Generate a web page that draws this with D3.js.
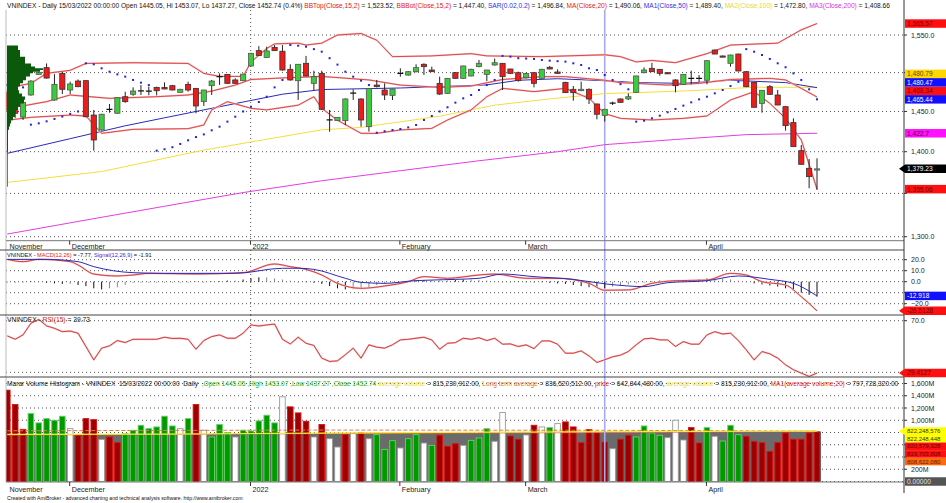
<!DOCTYPE html>
<html>
<head>
<meta charset="utf-8">
<script src="https://cdn.jsdelivr.net/npm/d3@7"></script>
<style>
body { margin: 0; background: #fff; }
svg { display: block; font-family: "Liberation Sans", Arial, sans-serif; }
text { white-space: pre; }
</style>
</head>
<body>
<script>
// ---- price data (VNINDEX daily, 104 bars) ----
var openP = [1474,1452.7,1443,1471,1497.7,1506.5,1464.6,1499,1477.4,1489,
1489.5,1445.5,1426.8,1452.5,1447.7,1468.8,1471.9,1476,1476.2,1480.8,
1480.8,1483,1474.4,1484.7,1479.5,1462.5,1483,1494.7,1497.7,1490.4,
1489.5,1508.7,1529,1520,1533.4,1528.2,1504.3,1489.5,1512.2,1486,
1499,1439.3,1438.5,1438.5,1473.1,1465.9,1430.9,1483.8,1477.4,1470.5,
1499.2,1496.8,1501.2,1510.9,1503.4,1486,1473.1,1499.9,1492.5,1495.6,
1507.8,1497.7,1510,1512.2,1504.7,1499.9,1493.4,1499.9,1492.5,1507,
1500.8,1487.3,1478.3,1476.5,1478.3,1459.5,1445.05,1460.3,1465.9,1465.9,
1474.4,1499.9,1505.6,1504.3,1499.9,1490.4,1484.7,1492.5,1492.5,1490,
1529.8,1521.9,1512.2,1524.5,1501.2,1487.3,1460.3,1481.7,1471,1456.1,
1436,1401.3,1379.9,1377.9];
var highP = [1477.4,1462,1463.5,1490,1501,1512,1497.9,1501,1488.2,1491,
1490,1451.9,1447,1459.5,1468,1475.3,1480.8,1483.8,1481.7,1481.7,
1487.3,1484,1479,1488.2,1480,1477.5,1490.4,1499,1498,1492.5,
1498.5,1526,1535,1534.3,1536.5,1536.5,1510.9,1511,1522,1502.5,
1502.5,1451.9,1443,1466.7,1478.3,1466.7,1480,1490.4,1486,1479,
1505.6,1502,1510.9,1512.2,1507.8,1494.7,1493,1500.5,1509,1505,
1516.6,1503.5,1518.6,1512.5,1505,1501.2,1499.9,1500,1505,1508.7,
1504.3,1488,1482.5,1488.2,1479.5,1460,1453.07,1462.5,1466.5,1473.1,
1496,1506.9,1512.9,1504.5,1500.2,1491.3,1498,1502.5,1496.8,1516,
1530.6,1522.5,1523.5,1525,1502,1488,1477.4,1483.8,1477.4,1456.5,
1441.4,1408.2,1391.1,1392];
var lowP = [1449.8,1442,1439.3,1470,1497,1492,1463.7,1472.3,1472.3,1481,
1442.6,1401.3,1426,1448.5,1447,1461,1470,1471,1470.6,1470.5,
1478.5,1477,1474,1475.2,1447.7,1457,1471,1484,1485.5,1485.5,
1489,1508,1522,1519.5,1528.5,1502.5,1489.5,1464.6,1495,1477.4,
1451.9,1424.7,1438,1433,1464.6,1430.9,1424.7,1480.8,1464.6,1464.6,
1494.7,1496,1500.3,1496.8,1501,1471,1472.5,1492,1492,1495,
1507,1489,1509,1477.4,1498.5,1488.2,1492.5,1480.8,1492,1504.5,
1498.8,1473.5,1463.7,1476,1459.5,1440.1,1437.27,1458.2,1461,1464.6,
1474,1499,1501,1496,1498.4,1474.4,1484,1484.7,1487.7,1484.7,
1524.3,1520.5,1507.8,1501.8,1481,1455,1448.5,1471.5,1458,1426,
1406,1384.5,1356.1,1354.1];
var closeP = [1451.9,1447.7,1461.6,1489,1500.3,1492.9,1484.7,1478.3,1485.2,1481.7,
1443.4,1414.4,1446.5,1452.7,1467.6,1462.5,1476.1,1476.2,1476,1476.5,
1478.7,1477.4,1478.3,1477.4,1457,1477.4,1489,1494.8,1486,1486,
1498,1525.4,1522.5,1528.6,1529,1503.4,1490.4,1510.9,1495.6,1494.7,
1452.7,1439.5,1442.6,1465.9,1473.3,1439.3,1479.5,1481.7,1471,1478.7,
1499,1501.2,1506.5,1507.8,1501.2,1472.2,1492.5,1492.5,1508.7,1504.3,
1512.2,1503.4,1513,1494.7,1499,1489.5,1499,1486,1504.3,1504.7,
1499,1474,1474,1478.3,1465.9,1446.5,1452.74,1460.5,1461.6,1468.8,
1495.6,1503.4,1501.2,1499,1498.6,1483,1497.7,1492.4,1492.5,1515.7,
1524.5,1521,1523.2,1502.1,1481.7,1455.3,1477,1471.8,1458.2,1432.2,
1406.2,1384.7,1369.9,1379.23];

// indicator lines, [bar, value]
var bbTop = [[0,1480],[3,1486],[5,1499],[8,1503],[10,1512],[16,1513],[23,1512],[25,1499],[27,1495],[30,1495],[31,1514],[33,1532],[34,1538],[37,1539],[38,1536.5],[40,1539],[42,1550],[45,1552],[47,1543],[49,1521],[54,1522],[59,1525],[61,1522],[68,1521],[76,1523.5],[78,1521],[80,1514],[82,1516],[85,1513],[89,1525],[92,1536.5],[98,1539],[101,1557],[103,1565.57]];
var bbBot = [[0,1439],[3,1442.6],[8,1445.5],[10,1444.3],[12,1422.6],[16,1427.6],[23,1428.4],[25,1433],[26,1452],[28,1462.5],[31,1454],[33,1452],[37,1458],[39,1468.8],[40,1454],[42,1439],[45,1422.6],[47,1422.6],[50,1426.8],[54,1428.8],[56,1439.3],[59,1452],[61,1468.8],[63,1479.5],[67,1475.3],[69,1477.4],[71,1479.5],[74,1466.7],[76,1447.4],[78,1441.3],[82,1439.3],[86,1441.3],[89,1444.3],[92,1464.6],[95,1475.3],[97,1460.3],[99,1441.3],[101,1414.4],[103,1355.06]];
var ma20 = [[0,1455],[2,1457],[5,1462.5],[8,1471],[13,1466.7],[19,1468.8],[23,1471],[26,1476],[29,1483.8],[31,1491],[35,1493],[40,1495],[46,1490.4],[50,1483.8],[55,1480.8],[59,1482.5],[63,1491],[68,1494.7],[71,1494.7],[76,1490.06],[78,1486.9],[80,1486],[84,1483.8],[88,1486],[92,1491],[97,1492.5],[99,1490.4],[101,1479.5],[103,1468.34]];
var ma50 = [[0,1398],[8,1416],[15,1432],[20,1442],[25,1452],[30,1462],[35,1472],[40,1478],[50,1480],[61,1484],[65,1490],[70,1492],[76,1489.4],[80,1487],[86,1486],[92,1490],[99,1487],[103,1480.47]];
var ma100 = [[0,1363],[12,1376],[25,1402],[40,1427],[45,1430],[55,1444],[62,1458],[69,1466],[76,1472.8],[80,1474],[88,1477],[95,1481],[103,1480.79]];
var ma200 = [[0,1303],[10,1319],[20,1335],[30,1351],[40,1365],[50,1377],[60,1389],[70,1400],[76,1408.66],[85,1415],[94,1421],[103,1422.7]];
var sar = [1483.8,1482.5,1480.8,1433.4,1435.1,1437.6,1440.6,1443.6,1447,1450,
1512.2,1510.9,1505.6,1501.2,1497.7,1494.7,1490.4,1486.9,1483.8,1401.3,
1403,1405.5,1409.5,1414,1418,1421.3,1426.4,1430.9,1437.2,1443.4,
1450,1456,1462,1468.8,1480.8,1490.4,1536.5,1535.6,1534.3,1531,
1527.6,1519,1510.5,1501.2,1494.7,1489.5,1483.8,1423.4,1425.2,1426.8,
1428,1430,1433,1439.3,1444.3,1450,1455.3,1461.2,1466.7,1471,
1477.4,1483.8,1490.4,1522,1521,1519,1518.5,1518,1516.6,1515.7,
1515,1514.4,1512.2,1510,1505.6,1503.4,1496.84,1490.4,1485,1478.3,
1437.2,1438.4,1441.4,1444.7,1449,1453.2,1457.4,1461.6,1465.4,1468.8,
1473.1,1477.4,1482.5,1488,1531,1527.6,1523.2,1518,1512.2,1507,
1499,1490.4,1478.3,1465.44];

// volume-at-price profile on the left edge
var profilePrice = [1536,1530,1521,1512,1508,1505.6,1503.4,1501,1499,1495,1490,1486,1482,1477,1473,1469,1465,1460,1456,1452,1448,1443,1439,1435,1431,1427,1418,1410,1400,1386,1370,1358];
var profileVol = [9,11,13,18,24,28,36,33,26,23,19,16,13,11,12,15,18,17,13,11,9,8,6,4,3,2,1,1,1,0.7,0.7,0.7];

// MACD
var macdLine = [[0,20.3],[2,18.2],[4,20.3],[8,18.2],[9,15.2],[11,7.0],[14,5.2],[16,6.1],[18,7.6],[24,7.0],[30,8.2],[34,16.1],[36,13.7],[38,11.2],[40,6.1],[42,-1.5],[45,-6.0],[48,-3.9],[51,0.0],[53,4.6],[56,3.1],[60,6.1],[62,7.0],[66,3.1],[70,3.1],[74,-1.5],[76,-7.77],[79,-7.5],[82,-1.5],[85,0.9],[89,1.5],[92,7.6],[94,6.1],[96,0.0],[99,-3.0],[101,-13.6],[103,-26.51]];
var signalLine = [[0,20.3],[5,20.3],[9,18.2],[11,13.7],[16,8.2],[20,7.6],[29,7.6],[35,12.2],[37,12.2],[39,11.2],[43,3.1],[45,-0.6],[48,-1.5],[52,1.0],[54,1.5],[60,3.1],[63,7.0],[67,4.6],[72,2.1],[76,-1.91],[79,-3.9],[81,-4.5],[84,-0.9],[89,0.9],[93,5.2],[97,2.1],[100,-1.5],[103,-12.92]];
var macdHist = [-1,-1,0,0.5,-0.5,-1,-1.5,-2,-2,-3,
-4,-6,-7,-6,-5,-3,-1,0,0,0,
0,0,0,0,-0.3,0,0.3,0.5,1,1,
2,3,4,4,3,2,1,0,-0.5,-1,
-2,-4,-6,-7,-7,-6,-5,-3,-2,-1,
0,0.5,1,1.5,1.5,1,1,1.5,2,2,
1.5,1,0.5,0,0,-0.3,-0.5,0,-0.5,-1,
-1.5,-2,-3,-4,-5,-5.5,-5.86,-4.5,-3.5,-2.5,
-1.5,0,0.5,1,1,1,1,1,2,3,
3,3,2,1,-0.5,-1.5,-2.5,-3.5,-4.5,-6,
-8,-10,-12,-13.6];

// RSI(15)
var rsi = [58.2,55.6,59,68,71,66,64.1,61.5,62,60.3,
50,39.6,48.7,50.5,54.6,53.1,55.6,55.6,55.6,55.6,
57.2,56.2,56.4,55.6,47.9,54.6,57.7,59,56.4,56.4,
60.3,66.7,65.9,66.7,67.4,55.6,52,57.2,52.5,50.8,
41,38.4,38.9,43.6,48.7,41,51.3,49.5,48.7,51.3,
55.1,55.6,56.4,57.2,55.1,47.9,52.5,53,56.4,55.6,
56.8,54.6,56.4,51.8,52,50,51.3,48.4,54.3,54.3,
51.8,44.8,44.8,46.6,42.7,37.6,39.73,42,43.3,46.1,
51.3,55.9,56.4,55.1,55.1,50,53.8,51.8,51.8,59,
61.5,59.7,60.3,54.6,47.4,39.6,46.1,44.3,41,35.8,
32,29.4,26.8,29.41];

// volume (millions) and histogram colour codes: r = down, g = up, w = neutral
var volumeM = [1492,1257,852,1110,957,1027,1000,1066,863,754,
1027,1010,688,727,634,781,836,918,863,891,
1066,907,863,1027,1257,836,727,930,798,727,
836,825,989,1082,957,1383,1219,1120,984,727,
930,699,563,765,781,798,699,765,525,667,
547,699,765,628,590,754,574,617,590,672,
710,863,656,1126,743,689,760,918,891,880,
945,973,891,634,847,809,643,536,689,754,
727,907,792,754,716,1000,678,880,628,880,
738,661,918,765,738,656,634,492,634,792,
689,689,792,809];
var volumeColor = ('rrrgggggwr' + 'rrwrrggggg' + 'ggwgrwgggw' + 'gggggwrrrw' + 'rwwrwrwggg' +
  'wggwgrrrwg' + 'ggwwrrwrwg' + 'wrrrrrrwrr' + 'ggggwwwrrg' + 'wgggrrrrrr' + 'rrrr').split('');
var avgVolume = [[0,770],[20,775],[40,790],[60,805],[76,815],[103,822]];
var longTermAvg = [[0,828],[40,840],[76,836],[103,823]];
var ma20Volume = [[0,760],[30,775],[50,790],[76,798],[103,820]];

// axis
var monthNames = ['November', 'December', '2022', 'February', 'March', 'April'];
var monthStart = [0, 8, 31, 50, 66, 89];
var selectedBar = 76;
var priceTicks = [1300, 1350, 1400, 1450, 1500, 1550];
var macdTicks = [-20, -10, 0, 10, 20];
var rsiTicks = [30, 70];
var volTicks = [200, 400, 600, 800, 1000, 1200, 1400, 1600];

function plot_it() {
    var W = 946, H = 503, axisX = 904, left = 6;
    var svg = d3.select('body').append('svg').attr('width', W).attr('height', H);

    var x = d3.scaleLinear().domain([0, 103]).range([7.3, 817]);
    var yP = d3.scaleLog().domain([1300, 1550]).range([236.7, 35]);
    var yM = d3.scaleLinear().domain([-20, 20]).range([303.7, 259.7]);
    var yR = d3.scaleLinear().domain([30, 70]).range([372.3, 320.7]);
    var yV = d3.scaleLinear().domain([0, 1600]).range([481.5, 383.5]);

    var defs = svg.append('defs');
    [['cp', 9, 231.7], ['cm', 250, 65], ['cr', 315, 62], ['cv', 377, 105]].forEach(c => {
        defs.append('clipPath').attr('id', c[0]).append('rect')
            .attr('x', left).attr('y', c[1]).attr('width', axisX - left).attr('height', c[2]);
    });

    var dotted = (g, ys) => g.selectAll(null).data(ys).enter().append('line')
        .attr('x1', left).attr('x2', axisX).attr('y1', d => d).attr('y2', d => d)
        .attr('stroke', '#555').attr('stroke-dasharray', '1,3');

    // gridlines
    dotted(svg.append('g'), priceTicks.map(yP));
    dotted(svg.append('g'), macdTicks.map(yM));
    dotted(svg.append('g'), rsiTicks.map(yR));
    dotted(svg.append('g'), [0].concat(volTicks).map(yV));
    var yearX = x(31) - 0.3;
    [[10, 240], [250, 315], [315, 377], [377, 482]].forEach(r => {
        svg.append('line').attr('x1', yearX).attr('x2', yearX).attr('y1', r[0]).attr('y2', r[1])
            .attr('stroke', '#555').attr('stroke-dasharray', '1,3');
    });

    // volume gray area (average volume)
    var gV = svg.append('g').attr('clip-path', 'url(#cv)');
    gV.append('path').datum(avgVolume)
        .attr('d', d3.area().y0(yV(0)).y1(d => yV(d[1])).curve(d3.curveStepAfter)
            .x(d => d[0] == 103 ? x(103) + 4 : (d[0] == 0 ? x(0) - 3 : x(d[0]))))
        .attr('fill', '#6b6b6b');

    // selected bar line
    svg.append('line').attr('x1', x(selectedBar)).attr('x2', x(selectedBar)).attr('y1', 10).attr('y2', 482)
        .attr('stroke', '#a9a9f2').attr('stroke-width', 1.6);

    // ---- price panel ----
    var gP = svg.append('g').attr('clip-path', 'url(#cp)');
    var lineP = d3.line().x(d => x(d[0])).y(d => yP(d[1]));
    gP.append('path').datum(ma200).attr('d', lineP).attr('fill', 'none').attr('stroke', '#e23de2').attr('stroke-width', 1);
    gP.append('path').datum(ma100).attr('d', lineP).attr('fill', 'none').attr('stroke', '#f2df3a').attr('stroke-width', 1);
    gP.append('path').datum(ma50).attr('d', lineP).attr('fill', 'none').attr('stroke', '#2a2ab8').attr('stroke-width', 1);
    [bbTop, bbBot, ma20].forEach(s => {
        gP.append('path').datum(s).attr('d', lineP).attr('fill', 'none').attr('stroke', '#f6c0c0').attr('stroke-width', 1.8);
        gP.append('path').datum(s).attr('d', lineP).attr('fill', 'none').attr('stroke', '#d42a2a').attr('stroke-width', 0.8);
    });

    // SAR dots
    gP.selectAll('rect.sar').data(sar).enter().append('rect')
        .attr('x', (d, i) => x(i) - 1).attr('y', d => yP(d) - 1)
        .attr('width', 2).attr('height', 2).attr('fill', '#2222dd');

    var bars = d3.range(openP.length).map(i => ({ i: i, o: openP[i], h: highP[i], l: lowP[i], c: closeP[i] }));
    gP.selectAll('line.wick').data(bars).enter().append('line')
        .attr('x1', d => x(d.i)).attr('x2', d => x(d.i))
        .attr('y1', d => yP(d.h)).attr('y2', d => yP(d.l))
        .attr('stroke', '#222').attr('stroke-width', 1);
    gP.selectAll('rect.body').data(bars.filter(d => Math.abs(d.c - d.o) >= 0.6)).enter().append('rect')
        .attr('x', d => x(d.i) - 2.6).attr('width', 5.2)
        .attr('y', d => yP(Math.max(d.o, d.c)))
        .attr('height', d => Math.max(1.2, yP(Math.min(d.o, d.c)) - yP(Math.max(d.o, d.c))))
        .attr('fill', d => d.c > d.o ? '#3ccb3c' : '#ee1b1b')
        .attr('stroke', d => d.c > d.o ? '#555' : '#333').attr('stroke-width', 0.8);
    gP.selectAll('line.doji').data(bars.filter(d => Math.abs(d.c - d.o) < 0.6)).enter().append('line')
        .attr('x1', d => x(d.i) - 3).attr('x2', d => x(d.i) + 3)
        .attr('y1', d => yP(d.c)).attr('y2', d => yP(d.c))
        .attr('stroke', '#111').attr('stroke-width', 1.3);

    // volume profile
    var xProf = d3.scaleLinear().domain([0, 36]).range([left + 1, left + 37]);
    gP.append('path').datum(profilePrice.map((p, k) => [p, profileVol[k]]))
        .attr('d', d3.area().y(d => yP(d[0])).x0(xProf(0)).x1(d => xProf(d[1])).curve(d3.curveStepAfter))
        .attr('fill', '#0b5a0b');

    // ---- MACD panel ----
    var gM = svg.append('g').attr('clip-path', 'url(#cm)');
    gM.selectAll('line.hist').data(macdHist).enter().append('line')
        .attr('x1', (d, i) => x(i)).attr('x2', (d, i) => x(i))
        .attr('y1', yM(0)).attr('y2', d => yM(d) + (d == 0 ? 1 : 0))
        .attr('stroke', (d, i) => i > 0 && Math.abs(d) > Math.abs(macdHist[i - 1]) ? '#111' : '#888');
    var lineM = d3.line().x(d => x(d[0])).y(d => yM(d[1])).curve(d3.curveMonotoneX);
    gM.append('path').datum(macdLine).attr('d', lineM).attr('fill', 'none').attr('stroke', '#f6c0c0').attr('stroke-width', 1.8);
    gM.append('path').datum(macdLine).attr('d', lineM).attr('fill', 'none').attr('stroke', '#c82020').attr('stroke-width', 0.8);
    gM.append('path').datum(signalLine).attr('d', lineM).attr('fill', 'none').attr('stroke', '#2a2ab8').attr('stroke-width', 1);

    // ---- RSI panel ----
    var gR = svg.append('g').attr('clip-path', 'url(#cr)');
    var lineR = d3.line().x((d, i) => x(i)).y(d => yR(d));
    gR.append('path').datum(rsi).attr('d', lineR).attr('fill', 'none').attr('stroke', '#f6c0c0').attr('stroke-width', 1.8);
    gR.append('path').datum(rsi).attr('d', lineR).attr('fill', 'none').attr('stroke', '#c82020').attr('stroke-width', 0.8);

    // ---- volume panel ----
    var volFill = { r: '#9c0000', g: '#009a00', w: '#ffffff' };
    var volEdge = { r: '#e01010', g: '#60d860', w: '#9a9a9a' };
    gV.selectAll('rect.vol').data(volumeM).enter().append('rect')
        .attr('x', (d, i) => x(i) - 2.8).attr('width', 5.6)
        .attr('y', d => yV(d)).attr('height', d => yV(0) - yV(d))
        .attr('fill', (d, i) => volFill[volumeColor[i]])
        .attr('stroke', (d, i) => volEdge[volumeColor[i]]).attr('stroke-width', 0.9);
    var lineV = d3.line().x(d => x(d[0])).y(d => yV(d[1]));
    gV.append('path').datum(ma20Volume).attr('d', lineV).attr('fill', 'none').attr('stroke', '#e06060').attr('stroke-width', 0.9);
    gV.append('path').datum(longTermAvg).attr('d', lineV).attr('fill', 'none').attr('stroke', '#e08040')
        .attr('stroke-width', 1).attr('stroke-dasharray', '4,2');
    gV.append('path').datum(avgVolume).attr('d', lineV).attr('fill', 'none').attr('stroke', '#f4ee30').attr('stroke-width', 1.2);

    // ---- frames ----
    svg.append('line').attr('x1', left).attr('x2', left).attr('y1', 10).attr('y2', 482).attr('stroke', '#bbb');
    [[240.7, '#777'], [482, '#777']].forEach(a => svg.append('line').attr('x1', left).attr('x2', axisX)
        .attr('y1', a[0]).attr('y2', a[0]).attr('stroke', a[1]));
    [250, 315, 377].forEach(yy => svg.append('line').attr('x1', 0).attr('x2', axisX)
        .attr('y1', yy).attr('y2', yy).attr('stroke', '#444'));
    svg.append('line').attr('x1', axisX).attr('x2', axisX).attr('y1', 0).attr('y2', 493).attr('stroke', '#333');

    // month labels under price and volume panels
    [[240.7, 248.5], [482, 492]].forEach(a => {
        monthStart.forEach((m, k) => {
            var mx = x(m) - 0.5;
            if (k > 0) svg.append('line').attr('x1', mx).attr('x2', mx).attr('y1', a[0]).attr('y2', a[0] + 4).attr('stroke', '#333');
            svg.append('text').attr('x', k == 0 ? 9.5 : mx + 2).attr('y', a[1])
                .attr('font-size', 7.2).attr('fill', '#222').text(monthNames[k]);
        });
    });

    // coloured value labels on the axis (positions resolved first)
    function stack(items, scale, h, down) {
        var prev = down ? -Infinity : Infinity;
        items.sort((a, b) => down ? b.v - a.v : a.v - b.v).forEach(d => {
            d.y = down ? Math.max(scale(d.v), prev + h) : Math.min(scale(d.v), prev - h);
            prev = d.y;
        });
        return items;
    }
    var f2 = d3.format(',.2f');
    var priceLabels = stack([
        { v: 1565.57, t: f2(1565.57), bg: '#ff1010', fg: '#7a0000' },
        { v: 1480.79, t: f2(1480.79), bg: '#ffd700', fg: '#5a4a00' },
        { v: 1480.47, t: f2(1480.47), bg: '#1010ff', fg: '#ffffff' },
        { v: 1468.34, t: f2(1468.34), bg: '#ff1010', fg: '#7a0000' },
        { v: 1465.44, t: f2(1465.44), bg: '#1010ff', fg: '#ffffff' },
        { v: 1422.7, t: '1,422.7', bg: '#ff10ff', fg: '#500050' },
        { v: 1379.23, t: f2(1379.23), bg: '#000000', fg: '#ffffff', arrow: true },
        { v: 1355.06, t: f2(1355.06), bg: '#ff1010', fg: '#7a0000' }
    ], yP, 8.5, false);
    var macdLabels = [
        { y: yM(-12.918), t: '-12.918', bg: '#1010ff', fg: '#ffffff' },
        { y: yM(-26.5128), t: '-26.5128', bg: '#ff1010', fg: '#6a0000', arrow: true }
    ];
    var rsiLabels = [{ y: yR(29.4127), t: '29.4127', bg: '#ff1010', fg: '#6a0000', arrow: true }];
    var volLabels = stack([
        { v: 822.2485, t: '822,248,576', bg: '#ffff00', fg: '#333', arrow: true },
        { v: 822.2484, t: '822,248,448', bg: '#ffff00', fg: '#333' },
        { v: 820.579, t: '820,579,328', bg: '#ff1010', fg: '#6a0000' },
        { v: 819.703, t: '819,703,808', bg: '#ff1010', fg: '#6a0000' },
        { v: 808.622, t: '808,622,080', bg: '#ff6a10', fg: '#5a2000' }
    ], yV, 7.6, true);
    var allLabels = priceLabels.concat(macdLabels, rsiLabels, volLabels);

    // right axis ticks, hidden where a value label covers them
    function tickLabels(vals, scale, fmt) {
        vals.forEach(v => {
            var yy = scale(v);
            svg.append('line').attr('x1', axisX).attr('x2', axisX + 3).attr('y1', yy).attr('y2', yy).attr('stroke', '#333');
            if (allLabels.some(l => Math.abs(l.y - yy) < 6)) return;
            svg.append('text').attr('x', 911).attr('y', yy + 2.5).attr('font-size', 7).attr('fill', '#222').text(fmt(v));
        });
    }
    tickLabels(priceTicks, yP, d3.format(',.1f'));
    tickLabels(macdTicks, yM, d3.format('.1f'));
    tickLabels([70], yR, d3.format('.1f'));
    tickLabels(volTicks, yV, v => d3.format(',')(v) + 'M');

    function valueLabel(yy, txt, bg, fg, arrow, h, fs) {
        var g = svg.append('g');
        if (arrow) g.append('path').attr('d', 'M899,' + yy + 'L905,' + (yy - h / 2) + 'L946,' + (yy - h / 2) + 'L946,' + (yy + h / 2) + 'L905,' + (yy + h / 2) + 'Z').attr('fill', bg);
        else g.append('rect').attr('x', 905).attr('y', yy - h / 2).attr('width', 41).attr('height', h).attr('fill', bg);
        g.append('text').attr('x', 907).attr('y', yy + fs * 0.36).attr('font-size', fs).attr('fill', fg).text(txt);
    }
    priceLabels.concat(macdLabels, rsiLabels).forEach(d => valueLabel(d.y, d.t, d.bg, d.fg, d.arrow, 8.5, 6.6));
    volLabels.forEach(d => valueLabel(d.y, d.t, d.bg, d.fg, d.arrow, 7.6, 6));
    valueLabel(yV(0), '0.00000', '#555555', '#e0e0e0', false, 8.5, 6.6);

    // ---- headers ----
    function header(yy, parts, width, fs) {
        var t = svg.append('text').attr('x', 7).attr('y', yy).attr('font-size', fs);
        parts.forEach(p => t.append('tspan').attr('fill', p[1] || '#111').text(p[0]));
        var len = t.node().getComputedTextLength();
        t.attr('font-size', fs * width / len);
        return t;
    }
    var RED = '#e02020', BLUE = '#3030e0', YEL = '#e8d830', MAG = '#e030e0';
    header(7.5, [
        ['VNINDEX - Daily 15/03/2022 00:00:00 Open 1445.05, Hi 1453.07, Lo 1437.27, Close 1452.74 (0.4%) '],
        ['BBTop(Close,15,2)', RED], [' = 1,523.52, '], ['BBBot(Close,15,2)', RED], [' = 1,447.40, '],
        ['SAR(0.02,0.2)', BLUE], [' = 1,496.84, '], ['MA(Close,20)', RED], [' = 1,490.06, '],
        ['MA1(Close,50)', BLUE], [' = 1,489.40, '], ['MA2(Close,100)', YEL], [' = 1,472.80, '],
        ['MA3(Close,200)', MAG], [' = 1,408.66']
    ], 884, 7);
    header(256.8, [['VNINDEX - '], ['MACD(12,26)', RED], [' = -7.77, '], ['Signal(12,26,9)', BLUE], [' = -1.91']], 145, 7);
    header(321.8, [['VNINDEX - '], ['RSI(15)', RED], [' = 39.73']], 83, 7);
    header(386, [
        ['Marar Volume Histogram - VNINDEX  15/03/2022 00:00:00  Daily  '],
        [',Open 1445.05 ,High 1453.07 ,Low 1437.27 ,Close 1452.74 ', '#12b012'],
        ['average volume', YEL], [' = 815,230,912.00, '], ['Long term average', '#e07030'], [' = 836,520,512.00, '],
        ['price', RED], [' = 642,844,480.00, '], ['average volume', YEL], [' = 815,230,912.00, '],
        ['MA1(average volume,20)', RED], [' = 797,728,320.00']
    ], 894, 7);
    header(499.5, [['Created with AmiBroker - advanced charting and technical analysis software. http://www.amibroker.com']], 236, 5.5);
}
plot_it();
</script>
</body>
</html>
